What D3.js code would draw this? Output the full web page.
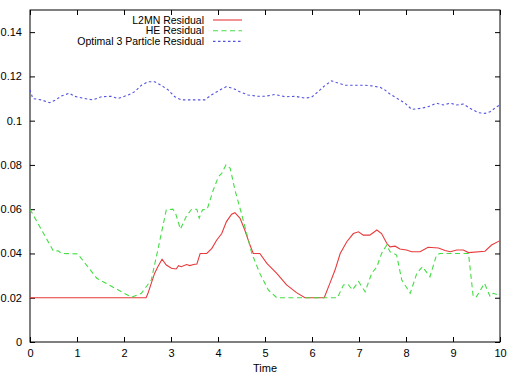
<!DOCTYPE html>
<html>
<head>
<meta charset="utf-8">
<script src="https://cdn.jsdelivr.net/npm/d3@7"></script>
<style>
  body { margin: 0; background: #fff; }
  text { font-family: "Liberation Sans", Arial, sans-serif; fill: #000; }
</style>
</head>
<body>
<div id="graphe"></div>
<script>
//----------------------------------------------------------------
// données (temps, résidu)
//----------------------------------------------------------------
var l2mn = [[0,0.02],[2.47,0.02],[2.51,0.022],[2.58,0.0265],[2.65,0.031],[2.72,0.034],[2.81,0.0374],
    [2.90,0.0348],[3.01,0.0333],[3.11,0.033],[3.16,0.0345],[3.22,0.034],[3.33,0.035],[3.40,0.0345],
    [3.48,0.035],[3.55,0.0352],[3.62,0.040],[3.76,0.040],[3.87,0.0423],[3.97,0.046],[4.08,0.049],
    [4.18,0.0544],[4.29,0.0577],[4.36,0.0584],[4.47,0.0559],[4.57,0.0506],[4.68,0.0438],[4.75,0.040],
    [4.89,0.040],[5.04,0.0355],[5.25,0.031],[5.46,0.0258],[5.67,0.0223],[5.85,0.020],[6.26,0.020],
    [6.38,0.0265],[6.49,0.0325],[6.60,0.040],[6.74,0.0453],[6.88,0.049],[6.99,0.0498],[7.09,0.0483],
    [7.23,0.0483],[7.38,0.0506],[7.48,0.049],[7.59,0.0446],[7.66,0.043],[7.77,0.0433],[7.87,0.042],
    [8.01,0.0416],[8.12,0.0408],[8.30,0.0408],[8.47,0.0428],[8.69,0.0425],[8.83,0.0413],[8.94,0.0408],
    [9.08,0.0416],[9.22,0.0416],[9.33,0.0404],[9.68,0.041],[9.82,0.0438],[10,0.0458]];

var he = [[0,0.06],[0.50,0.041],[0.60,0.0412],[0.67,0.040],[1.02,0.0398],[1.09,0.0378],[1.42,0.0288],
    [1.81,0.0243],[2.16,0.0202],[2.37,0.022],[2.58,0.028],[2.72,0.0416],[2.90,0.0597],[3.04,0.060],
    [3.10,0.058],[3.20,0.051],[3.33,0.057],[3.44,0.060],[3.55,0.060],[3.60,0.056],[3.67,0.0597],
    [3.77,0.060],[3.90,0.0687],[4.01,0.0747],[4.08,0.0762],[4.17,0.080],[4.26,0.0785],[4.36,0.0687],
    [4.50,0.058],[4.61,0.049],[4.72,0.040],[4.89,0.031],[5.07,0.0235],[5.25,0.020],[6.54,0.020],
    [6.67,0.0258],[6.77,0.026],[6.86,0.0235],[6.99,0.0273],[7.13,0.0227],[7.27,0.031],[7.38,0.034],
    [7.48,0.040],[7.59,0.0438],[7.66,0.0408],[7.80,0.0393],[7.91,0.028],[8.09,0.022],[8.23,0.031],
    [8.35,0.034],[8.51,0.0295],[8.65,0.0393],[8.72,0.040],[9.33,0.040],[9.43,0.0205],[9.50,0.0205],
    [9.67,0.0265],[9.79,0.0205],[9.86,0.022],[10,0.021]];

var optimal3 = [[0,0.1139],[0.06,0.110],[0.24,0.1094],[0.42,0.1081],[0.55,0.1094],[0.67,0.1112],
    [0.84,0.1124],[0.95,0.111],[1.16,0.110],[1.34,0.1094],[1.52,0.1108],[1.73,0.111],[1.87,0.110],
    [2.09,0.1116],[2.23,0.1131],[2.37,0.116],[2.51,0.1176],[2.65,0.1176],[2.79,0.116],[2.94,0.1139],
    [3.08,0.1108],[3.22,0.1094],[3.50,0.1094],[3.72,0.1094],[3.86,0.1116],[4.04,0.1139],[4.18,0.1154],
    [4.32,0.1146],[4.46,0.1131],[4.64,0.1116],[4.85,0.111],[5.0,0.111],[5.21,0.1118],[5.43,0.1108],
    [5.64,0.111],[5.85,0.1102],[5.99,0.1106],[6.13,0.1131],[6.28,0.116],[6.42,0.118],[6.52,0.1172],
    [6.70,0.116],[6.91,0.116],[7.13,0.116],[7.27,0.1157],[7.45,0.1151],[7.55,0.1139],[7.66,0.112],
    [7.84,0.1097],[7.98,0.1079],[8.12,0.1051],[8.33,0.1056],[8.47,0.1063],[8.65,0.1079],[8.79,0.1071],
    [8.94,0.1079],[9.08,0.1071],[9.22,0.1075],[9.36,0.1056],[9.54,0.1036],[9.68,0.1033],[9.79,0.104],
    [9.93,0.1063],[10,0.107]];

var legendes = ["L2MN Residual", "HE Residual", "Optimal 3 Particle Residual"];
var xTicks = [0,1,2,3,4,5,6,7,8,9,10];
var yTicks = [0,0.02,0.04,0.06,0.08,0.1,0.12,0.14];

//----------------------------------------------------------------
// dimensions
//----------------------------------------------------------------
var margin = {top: 10, right: 7, bottom: 32, left: 30},
    width = 507 - margin.left - margin.right,
    height = 374 - margin.top - margin.bottom;

var series = [
    {data: l2mn, couleur: "#e83a3c", dash: null},
    {data: he, couleur: "#44dd44", dash: "5,3.5"},
    {data: optimal3, couleur: "#5252e0", dash: "2.5,2.5"}
];

var svg = d3.select("#graphe").append("svg")
    .attr("width", 507)
    .attr("height", 374)
    .append("g")
    .attr("transform", "translate(" + margin.left + "," + margin.top + ")");

var x = d3.scaleLinear().domain([0, 10]).range([0, width]);
var y = d3.scaleLinear().domain([0, 0.15]).range([height, 0]);

// axes (ticks vers l'intérieur, en miroir comme gnuplot)
svg.append("g")
    .attr("transform", "translate(0," + height + ")")
    .call(d3.axisBottom(x).tickValues(xTicks).tickSize(-5).tickPadding(7).tickFormat(d3.format("d")));
svg.append("g")
    .call(d3.axisTop(x).tickValues(xTicks).tickSize(-5).tickFormat(""));
svg.append("g")
    .call(d3.axisLeft(y).tickValues(yTicks).tickSize(-5).tickPadding(8)
        .tickFormat(function(d) { return d3.format("~g")(d); }));
svg.append("g")
    .attr("transform", "translate(" + width + ",0)")
    .call(d3.axisRight(y).tickValues(yTicks).tickSize(-5).tickFormat(""));

svg.selectAll(".domain").remove();
svg.selectAll(".tick line").attr("stroke", "#000");
svg.selectAll(".tick text")
    .style("font-family", "'Liberation Sans', Arial, sans-serif")
    .style("font-size", "11px");

// cadre
svg.append("rect")
    .attr("width", width)
    .attr("height", height)
    .attr("fill", "none")
    .attr("stroke", "#000")
    .attr("stroke-width", 1);

svg.append("text")
    .attr("x", width / 2)
    .attr("y", height + 30)
    .attr("text-anchor", "middle")
    .style("font-size", "11px")
    .text("Time");

// courbes
var ligne = d3.line()
    .x(function(d) { return x(d[0]); })
    .y(function(d) { return y(d[1]); });

series.forEach(function(s) {
    svg.append("path")
        .datum(s.data)
        .attr("fill", "none")
        .attr("stroke", s.couleur)
        .attr("stroke-width", 1.1)
        .attr("stroke-dasharray", s.dash)
        .attr("d", ligne);
});

// légende
var legende = svg.selectAll(".legend")
    .data(series)
    .enter().append("g")
    .attr("class", "legend")
    .attr("transform", function(d, i) { return "translate(0," + (10 + i * 10.7) + ")"; });

legende.append("text")
    .attr("x", 174)
    .attr("dy", "0.35em")
    .attr("text-anchor", "end")
    .style("font-size", "10.5px")
    .text(function(d, i) { return legendes[i]; });

legende.append("line")
    .attr("x1", 183)
    .attr("x2", 212)
    .attr("stroke", function(d) { return d.couleur; })
    .attr("stroke-width", 1.1)
    .attr("stroke-dasharray", function(d) { return d.dash; });
</script>
</body>
</html>
